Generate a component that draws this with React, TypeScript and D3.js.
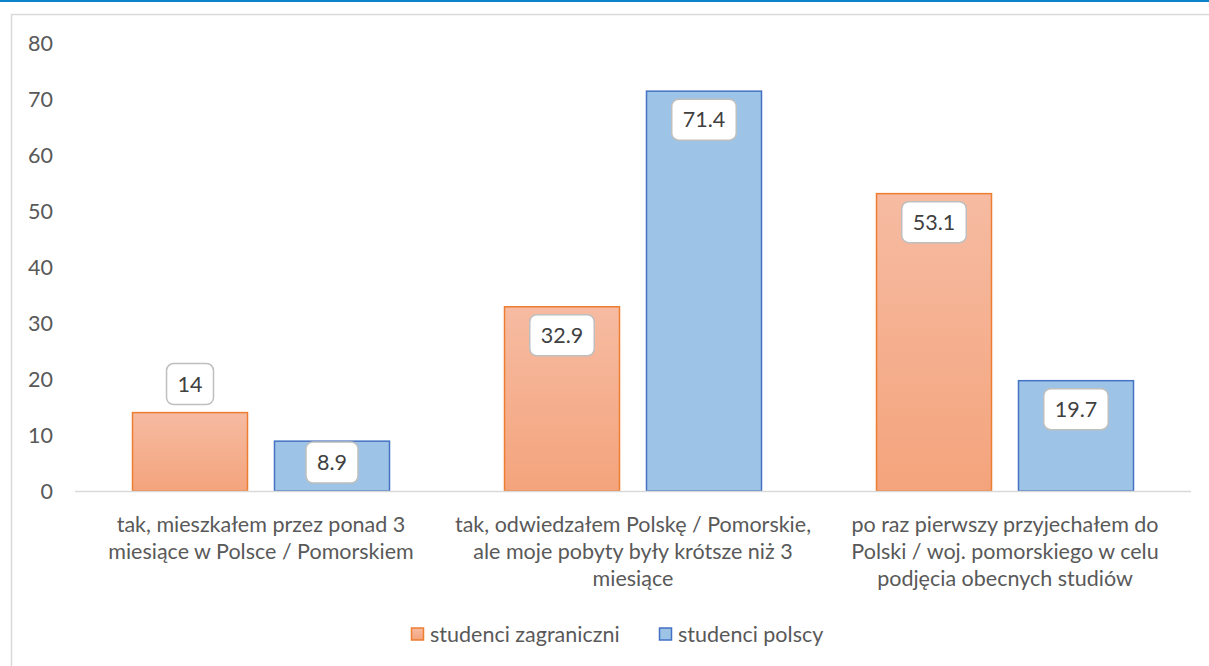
import React, { useEffect, useRef } from "react";
import * as d3 from "d3";

const categories = ["c1", "c2", "c3"];
const categoryLines = [
  ["tak, mieszkałem przez ponad 3", "miesiące w Polsce / Pomorskiem"],
  ["tak, odwiedzałem Polskę / Pomorskie,", "ale moje pobyty były krótsze niż 3", "miesiące"],
  ["po raz pierwszy przyjechałem do", "Polski / woj. pomorskiego w celu", "podjęcia obecnych studiów"],
];
const seriesNames = ["studenci zagraniczni", "studenci polscy"];
const foreignValues = [14, 32.9, 53.1];
const polishValues = [8.9, 71.4, 19.7];
// where Excel put each label (outside end / inside end)
const foreignLabelPos = ["outside", "inside", "inside"];
const polishLabelPos = ["inside", "inside", "inside"];
const yTicks = [0, 10, 20, 30, 40, 50, 60, 70, 80];

const W = 1209;
const H = 666;
const FONT = "Lato, 'Open Sans', sans-serif";

const App = () => {
  const ref = useRef<SVGSVGElement>(null);

  useEffect(() => {
    const svg = d3.select(ref.current);
    svg.selectAll("*").remove();

    const defs = svg.append("defs");
    const grad = defs
      .append("linearGradient")
      .attr("id", "orangeGrad")
      .attr("x1", 0)
      .attr("y1", 0)
      .attr("x2", 0)
      .attr("y2", 1);
    grad.append("stop").attr("offset", "0%").attr("stop-color", "#f6bba2");
    grad.append("stop").attr("offset", "100%").attr("stop-color", "#f4a47c");

    // page chrome
    svg.append("rect").attr("x", 0).attr("y", 0).attr("width", W).attr("height", 2).attr("fill", "#0b84c9");
    svg
      .append("rect")
      .attr("x", 11.5)
      .attr("y", 14.5)
      .attr("width", W + 20)
      .attr("height", H + 20)
      .attr("fill", "none")
      .attr("stroke", "#d9d9d9")
      .attr("stroke-width", 1.5);

    const left = 75;
    const right = 1191;
    const bottom = 491;
    const top = 43;

    const x0 = d3.scaleBand().domain(categories).range([left, right]).padding(0);
    const x1 = d3
      .scaleBand()
      .domain(seriesNames)
      .range([57.5, x0.bandwidth() - 57.5])
      .paddingInner(0.19)
      .paddingOuter(0);
    const y = d3.scaleLinear().domain([0, 80]).range([bottom, top]);

    // y tick labels
    svg
      .append("g")
      .selectAll("text")
      .data(yTicks)
      .join("text")
      .attr("x", 53)
      .attr("y", (d) => y(d))
      .attr("dy", "0.35em")
      .attr("text-anchor", "end")
      .style("font-family", FONT)
      .style("font-size", "21.5px")
      .attr("fill", "#595959")
      .text((d) => d);

    const series = [
      { name: seriesNames[0], values: foreignValues, pos: foreignLabelPos, fill: "url(#orangeGrad)", stroke: "#ed7d31" },
      { name: seriesNames[1], values: polishValues, pos: polishLabelPos, fill: "#9dc3e6", stroke: "#4472c4" },
    ];

    series.forEach((s) => {
      svg
        .append("g")
        .selectAll("rect")
        .data(s.values)
        .join("rect")
        .attr("x", (d, i) => x0(categories[i]) + x1(s.name))
        .attr("y", (d) => y(d))
        .attr("width", x1.bandwidth())
        .attr("height", (d) => y(0) - y(d))
        .attr("fill", s.fill)
        .attr("stroke", s.stroke)
        .attr("stroke-width", 1.5);
    });

    // axis line
    svg
      .append("line")
      .attr("x1", left)
      .attr("x2", right)
      .attr("y1", bottom + 0.5)
      .attr("y2", bottom + 0.5)
      .attr("stroke", "#d9d9d9")
      .attr("stroke-width", 1.5);

    // data labels
    const boxH = 41;
    series.forEach((s) => {
      s.values.forEach((v, i) => {
        const cx = x0(categories[i]) + x1(s.name) + x1.bandwidth() / 2;
        const g = svg.append("g");
        const t = g
          .append("text")
          .attr("x", cx)
          .attr("text-anchor", "middle")
          .attr("dy", "0.35em")
          .style("font-family", FONT)
          .style("font-size", "21.5px")
          .attr("fill", "#404040")
          .text(String(v));
        const tw = (t.node() as SVGTextElement).getComputedTextLength();
        const bw = tw + 22;
        let boxTop;
        if (s.pos[i] === "outside") {
          boxTop = y(v) - 8 - boxH;
        } else {
          boxTop = Math.min(y(v) + 8, y(0) - 8 - boxH);
        }
        t.attr("y", boxTop + boxH / 2);
        g.insert("rect", "text")
          .attr("x", cx - bw / 2)
          .attr("y", boxTop)
          .attr("width", bw)
          .attr("height", boxH)
          .attr("rx", 7)
          .attr("fill", "white")
          .attr("stroke", "#bfbfbf")
          .attr("stroke-width", 1.5);
      });
    });

    // category labels
    categoryLines.forEach((lines, i) => {
      const cx = x0(categories[i]) + x0.bandwidth() / 2;
      const t = svg
        .append("text")
        .attr("text-anchor", "middle")
        .style("font-family", FONT)
        .style("font-size", "21.5px")
        .attr("fill", "#595959");
      lines.forEach((line, j) => {
        t.append("tspan")
          .attr("x", cx)
          .attr("y", 524 + j * 27.3)
          .attr("dy", "0.35em")
          .text(line);
      });
    });

    // legend
    const legendX = [411, 659];
    series.forEach((s, i) => {
      const lg = svg.append("g").attr("transform", `translate(${legendX[i]},634)`);
      lg.append("rect")
        .attr("x", 0.5)
        .attr("y", -6)
        .attr("width", 12)
        .attr("height", 12)
        .attr("fill", s.fill)
        .attr("stroke", s.stroke)
        .attr("stroke-width", 1.5);
      lg.append("text")
        .attr("x", 19)
        .attr("y", 0)
        .attr("dy", "0.35em")
        .style("font-family", FONT)
        .style("font-size", "21.5px")
        .attr("fill", "#595959")
        .text(s.name);
    });
  }, []);

  return (
    <svg
      ref={ref}
      width={W}
      height={H}
      style={{ position: "absolute", left: 0, top: 0, display: "block", background: "white" }}
    />
  );
};

export default App;
